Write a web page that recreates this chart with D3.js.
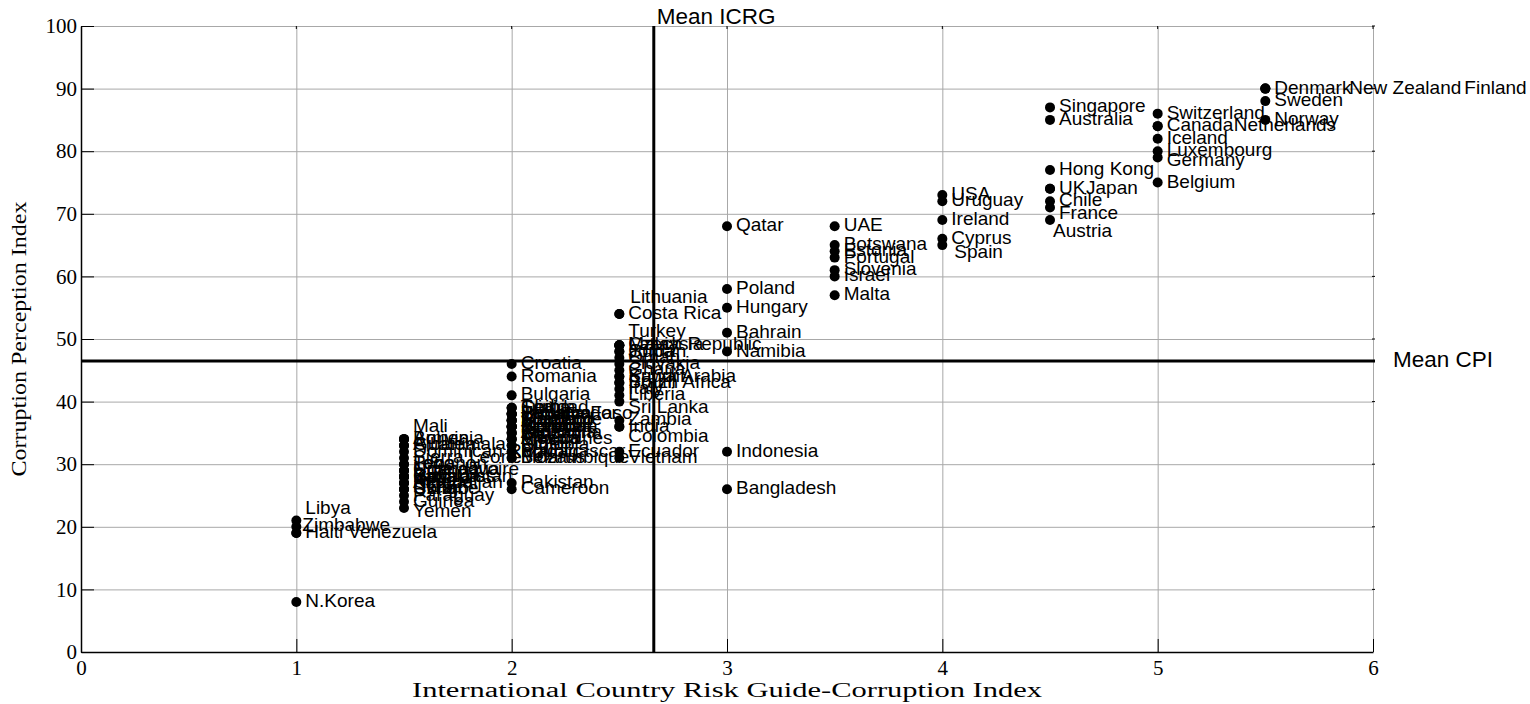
<!DOCTYPE html>
<html>
<head>
<meta charset="utf-8">
<script src="https://cdn.jsdelivr.net/npm/d3@7"></script>
<style>
  body { margin: 0; background: #fff; }
  .lbl { font-family: "Liberation Sans", Arial, sans-serif; font-size: 19px; fill: #000; }
  .mean { font-size: 22.5px; }
  .tick text { font-family: "Liberation Serif", "Times New Roman", serif; font-size: 21px; fill: #000; }
  .title { font-family: "Liberation Serif", "Times New Roman", serif; font-size: 20px; fill: #000; }
</style>
</head>
<body>
<script>
// country names, ICRG corruption score and CPI score
var countries = [
  "Denmark","New Zealand","Finland","Sweden","Norway",
  "Switzerland","Canada","Netherlands","Iceland","Luxembourg","Germany","Belgium",
  "Singapore","Australia","Hong Kong","UK","Japan","Chile","France","Austria",
  "USA","Uruguay","Ireland","Cyprus","Spain",
  "UAE","Botswana","Estonia","Portugal","Slovenia","Israel","Malta",
  "Qatar","Poland","Hungary","Bahrain","Namibia","Indonesia","Bangladesh",
  "Lithuania","Costa Rica","Turkey","Czech Republic","Latvia","Malaysia","Cuba","Jordan","Oman",
  "Slovakia","Ghana","Kuwait","Saudi Arabia","Brazil","South Africa","Italy","Liberia","Sri Lanka",
  "Zambia","India","Colombia","Ecuador","Vietnam",
  "Croatia","Romania","Bulgaria","China","Serbia","Trinidad","Burkina Faso","El Salvador","Jamaica",
  "Panama","Peru","Malawi","Morocco","Suriname","Thailand","Benin","Greece","Moldova","Mongolia",
  "Senegal","Argentina","Gabon","Tanzania","Algeria","Mexico","Philippines","Ethiopia","Niger",
  "Egypt","Madagascar","Belarus","Mozambique","Pakistan","Cameroon",
  "Mali","Armenia","Bolivia","Albania","Guatemala","Dominican Republic","Sierra Leone","Lebanon",
  "Togo","Cote d'Ivoire","Nicaragua","Uganda","Honduras","Iran","Russia","Kazakhstan","Guyana",
  "Azerbaijan","Kenya","Nigeria","Ukraine","Syria","Congo","Paraguay","Guinea","Yemen",
  "Libya","Zimbabwe","Haiti","Venezuela","N.Korea"
];
var icrg = [
  5.5,5.5,5.5,5.5,5.5,
  5,5,5,5,5,5,5,
  4.5,4.5,4.5,4.5,4.5,4.5,4.5,4.5,
  4,4,4,4,4,
  3.5,3.5,3.5,3.5,3.5,3.5,3.5,
  3,3,3,3,3,3,3,
  2.5,2.5,2.5,2.5,2.5,2.5,2.5,2.5,2.5,
  2.5,2.5,2.5,2.5,2.5,2.5,2.5,2.5,2.5,
  2.5,2.5,2.5,2.5,2.5,
  2,2,2,2,2,2,2,2,2,
  2,2,2,2,2,2,2,2,2,2,
  2,2,2,2,2,2,2,2,2,
  2,2,2,2,2,2,
  1.5,1.5,1.5,1.5,1.5,1.5,1.5,1.5,
  1.5,1.5,1.5,1.5,1.5,1.5,1.5,1.5,1.5,
  1.5,1.5,1.5,1.5,1.5,1.5,1.5,1.5,1.5,
  1,1,1,1,1
];
var cpi = [
  90,90,90,88,85,
  86,84,84,82,80,79,75,
  87,85,77,74,74,72,71,69,
  73,72,69,66,65,
  68,65,64,63,61,60,57,
  68,58,55,51,48,32,26,
  54,54,49,49,49,49,48,48,47,
  46,45,44,44,43,43,42,41,40,
  37,36,36,32,31,
  46,44,41,39,39,39,38,38,38,
  38,38,37,37,37,37,36,36,36,36,
  36,35,35,35,34,34,34,33,33,
  32,32,31,31,27,26,
  34,34,34,33,33,32,31,30,
  30,29,29,29,28,28,28,28,28,
  27,27,27,26,26,26,25,24,23,
  21,20,19,19,8
];
var xTicks = [0,1,2,3,4,5,6];
var yTicks = [0,10,20,30,40,50,60,70,80,90,100];
var meanICRG = 2.66, meanCPI = 46.5;

// label nudges in pixels where the original text was moved off the default spot
var labelNudge = {
  "Japan":[27,0], "New Zealand":[75,0], "Finland":[190,0], "Netherlands":[67,0], "Venezuela":[43,0],
  "Lithuania":[2,-16], "Turkey":[0,-13], "Mali":[0,-12], "Libya":[0,-12], "Zimbabwe":[-3,-1],
  "Austria":[-6,12], "France":[0,6], "Spain":[3,8], "Colombia":[0,10], "Yemen":[0,4],
  "Sri Lanka":[0,6], "Germany":[0,4]
};

var margin = {top: 26, right: 157, bottom: 52, left: 81},
    width = 1530 - margin.left - margin.right,
    height = 704 - margin.top - margin.bottom;

var x = d3.scaleLinear().domain([0,6]).range([0,width]);
var y = d3.scaleLinear().domain([0,100]).range([height,0]);

var svg = d3.select("body").append("svg")
    .attr("width", 1530)
    .attr("height", 704)
  .append("g")
    .attr("transform", "translate(" + margin.left + "," + margin.top + ")");

// grid
svg.append("g")
    .attr("transform", "translate(0," + height + ")")
    .call(d3.axisBottom(x).tickValues(xTicks.slice(1)).tickSize(-height).tickFormat(""))
    .call(function(g){ g.select(".domain").remove(); })
    .selectAll("line").attr("stroke","#a8a8a8");
svg.append("g")
    .call(d3.axisLeft(y).tickValues(yTicks.slice(1)).tickSize(-width).tickFormat(""))
    .call(function(g){ g.select(".domain").remove(); })
    .selectAll("line").attr("stroke","#a8a8a8");

// axes, ticks pointing inward
svg.append("g")
    .attr("transform", "translate(0," + height + ")")
    .call(d3.axisBottom(x).tickValues(xTicks).tickSizeInner(-13).tickSizeOuter(0).tickPadding(8).tickFormat(d3.format("d")))
    .call(function(g){ g.select(".domain").attr("stroke-width",1.5); });
svg.append("g")
    .call(d3.axisLeft(y).tickValues(yTicks).tickSizeInner(-13).tickSizeOuter(0).tickPadding(4).tickFormat(d3.format("d")))
    .call(function(g){ g.select(".domain").attr("stroke-width",1.5); });

// small marks on the top and right edges
svg.append("g").selectAll("line").data(xTicks.slice(1)).enter().append("line")
    .attr("x1", function(d){ return x(d); }).attr("x2", function(d){ return x(d); })
    .attr("y1", 0).attr("y2", 3).attr("stroke","#000");
svg.append("g").selectAll("line").data(yTicks.slice(1)).enter().append("line")
    .attr("x1", width - 1).attr("x2", width + 2)
    .attr("y1", function(d){ return y(d); }).attr("y2", function(d){ return y(d); })
    .attr("stroke","#000");

// mean lines
svg.append("line")
    .attr("x1", x(meanICRG)).attr("x2", x(meanICRG))
    .attr("y1", 0).attr("y2", height)
    .attr("stroke","#000").attr("stroke-width",3);
svg.append("line")
    .attr("x1", 0).attr("x2", width + 2)
    .attr("y1", y(meanCPI)).attr("y2", y(meanCPI))
    .attr("stroke","#000").attr("stroke-width",3);

svg.append("text").attr("class","lbl mean")
    .attr("x", x(meanICRG) + 3).attr("y", -8)
    .attr("dominant-baseline","middle")
    .text("Mean ICRG");
svg.append("text").attr("class","lbl mean")
    .attr("x", width + 20).attr("y", y(meanCPI))
    .attr("dominant-baseline","middle")
    .text("Mean CPI");

// points
svg.selectAll(".dot")
    .data(countries).enter()
    .append("circle")
    .attr("class","dot")
    .attr("cx", function(d,i){ return x(icrg[i]); })
    .attr("cy", function(d,i){ return y(cpi[i]); })
    .attr("r", 5)
    .style("fill","#000");

// labels
svg.selectAll(".name")
    .data(countries).enter()
    .append("text")
    .attr("class","lbl name")
    .attr("x", function(d,i){ var n = labelNudge[d] || [0,0]; return x(icrg[i]) + 9 + n[0]; })
    .attr("y", function(d,i){ var n = labelNudge[d] || [0,0]; return y(cpi[i]) + n[1]; })
    .attr("dominant-baseline","middle")
    .text(function(d){ return d; });

// axis titles
svg.append("text")
    .attr("class","title")
    .attr("x", width/2).attr("y", height + 45)
    .attr("textLength", 630).attr("lengthAdjust", "spacingAndGlyphs")
    .style("text-anchor","middle")
    .text("International Country Risk Guide-Corruption Index");
svg.append("text")
    .attr("class","title")
    .attr("transform", "rotate(-90)")
    .attr("x", -height/2).attr("y", -55)
    .attr("textLength", 275).attr("lengthAdjust", "spacingAndGlyphs")
    .style("text-anchor","middle")
    .text("Corruption Perception Index");
</script>
</body>
</html>
